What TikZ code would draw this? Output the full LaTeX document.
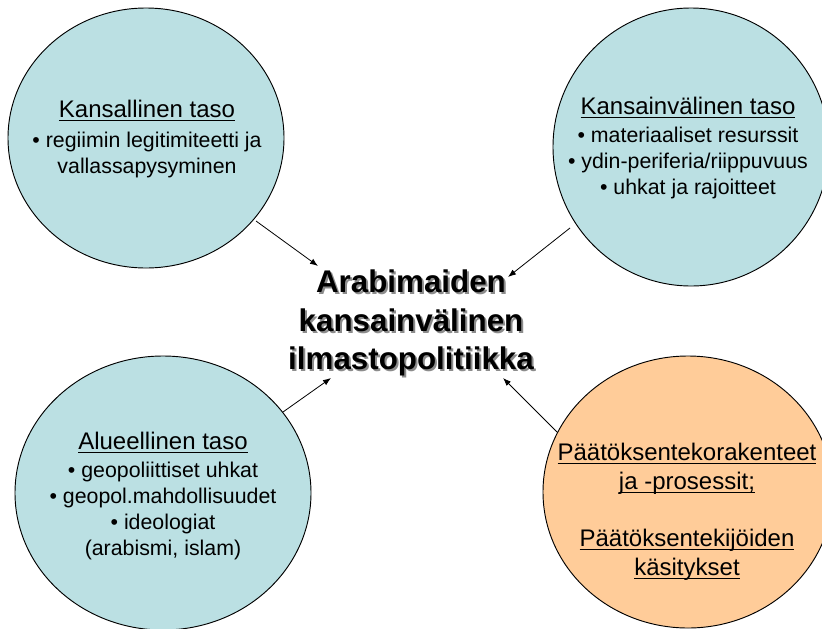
\documentclass[tikz,border=0pt]{standalone}
\usepackage{fontspec}
\setmainfont{Liberation Sans}
\usetikzlibrary{shapes.geometric,arrows.meta}
\definecolor{lblue}{HTML}{BBE0E3}
\definecolor{peach}{HTML}{FFCC99}
\newcommand\myul[1]{\setbox0=\hbox{#1}\rlap{\vrule width\wd0 height -1.7pt depth 2.7pt}\box0}
\newcommand\hd[1]{{\fontsize{18}{19.5}\selectfont\myul{#1}}}
\begin{document}
\begin{tikzpicture}[x=0.75pt,y=-0.75pt,
  blob/.style={ellipse,draw=black,line width=0.7pt,inner sep=0pt},
  body/.style={align=center,font=\fontsize{16}{19.5}\selectfont,inner sep=0pt},
  ttl/.style={align=center,font=\bfseries\fontsize{23.5}{28.8}\selectfont,inner sep=0pt},
  arr/.style={-{Latex[length=6pt,width=4.5pt]},line width=0.6pt}]
\useasboundingbox (0,0) rectangle (822,629);
\fill[white] (0,0) rectangle (822,629);
% circles
\node[blob,fill=lblue,minimum width=207pt,minimum height=195pt] (tl) at (146,138) {};
\node[blob,fill=lblue,minimum width=207pt,minimum height=208.5pt] (tr) at (691,147) {};
\node[blob,fill=lblue,minimum width=222pt,minimum height=205.5pt] (bl) at (163,493) {};
\node[blob,fill=peach,minimum width=217.5pt,minimum height=204pt] (br) at (688,492) {};
% texts
\node[body] (tltext) at (147,139) {\hd{Kansallinen taso}\\[3pt] • regiimin legitimiteetti ja\\ vallassapysyminen};
\node[body] (trtext) at (688,148) {\hd{Kansainvälinen taso}\\[1pt] • materiaaliset resurssit\\ • ydin-periferia/riippuvuus\\ • uhkat ja rajoitteet};
\node[body] (bltext) at (163,496) {\hd{Alueellinen taso}\\[1pt] • geopoliittiset uhkat\\ • geopol.mahdollisuudet\\ • ideologiat\\ (arabismi, islam)};
\node[body,font=\fontsize{18}{22}\selectfont] (brtext) at (687,512) {\myul{Päätöksentekorakenteet}\\ \myul{ja -prosessit;}\\[20.5pt] \myul{Päätöksentekijöiden}\\ \myul{käsitykset}};
% centre title with shadow
\node[ttl,text=black!45] (shadow) at (413,325) {Arabimaiden\\ kansainvälinen\\ ilmastopolitiikka};
\node[ttl] (centre) at (411,323) {Arabimaiden\\ kansainvälinen\\ ilmastopolitiikka};
% connectors
\coordinate (tla) at (256,221); \coordinate (tlb) at (318,266);
\coordinate (tra) at (570,228); \coordinate (trb) at (508,277);
\coordinate (bla) at (283,412); \coordinate (blb) at (331,378);
\coordinate (bra) at (557,432); \coordinate (brb) at (503,378);
\draw[arr] (tla) -- (tlb);
\draw[arr] (tra) -- (trb);
\draw[arr] (bla) -- (blb);
\draw[arr] (bra) -- (brb);
\end{tikzpicture}
\end{document}
